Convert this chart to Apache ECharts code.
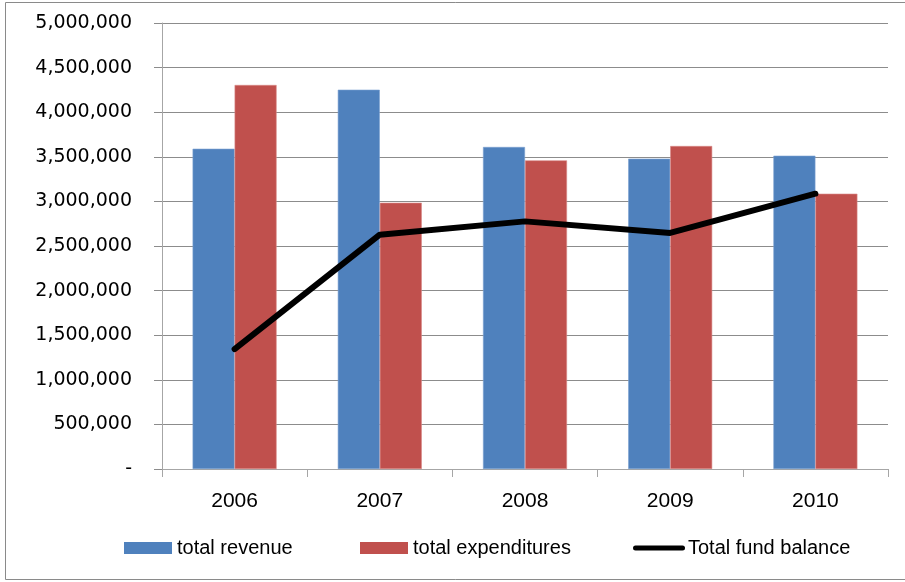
<!DOCTYPE html>
<html>
<head>
<meta charset="utf-8">
<script src="https://cdn.jsdelivr.net/npm/echarts@6/dist/echarts.min.js"></script>
<style>
html,body{margin:0;padding:0;background:#fff;}
#c{width:905px;height:582px;}
</style>
</head>
<body>
<div id="c"></div>
<script>
var categories = ['2006', '2007', '2008', '2009', '2010'];
var totalRevenue = [3590000, 4252000, 3610000, 3479000, 3512000];
var totalExpenditures = [4305000, 2985000, 3460000, 3621000, 3086000];
var totalFundBalance = [1345000, 2627000, 2776000, 2646000, 3086000];
var yTicks = { min: 0, max: 5000000, interval: 500000 };

function fmt(v) {
  if (v === 0) return '-';
  return String(v).replace(/\B(?=(\d{3})+(?!\d))/g, ',');
}

var chart = echarts.init(document.getElementById('c'), null, { renderer: 'canvas' });
var legendText = { fontFamily: 'Liberation Sans', fontSize: 20, color: '#000', lineHeight: 22 };
var legendBase = { itemGap: 0, padding: 0, top: 537, textStyle: legendText, itemStyle: { borderWidth: 0 } };
chart.setOption({
  animation: false,
  backgroundColor: '#fff',
  graphic: [{
    type: 'rect',
    shape: { x: 5.5, y: 2.5, width: 910, height: 577 },
    style: { fill: 'none', stroke: '#8a8a8a', lineWidth: 1 },
    silent: true
  }],
  grid: { left: 162, right: 17, top: 23, bottom: 113, containLabel: false },
  legend: [
    Object.assign({}, legendBase, { data: [{ name: 'total revenue', icon: 'rect' }], left: 124, itemWidth: 48, itemHeight: 12 }),
    Object.assign({}, legendBase, { data: [{ name: 'total expenditures', icon: 'rect' }], left: 360, itemWidth: 48, itemHeight: 12 }),
    Object.assign({}, legendBase, { data: [{ name: 'Total fund balance', icon: 'path://M2.5,0 H49.5 A2.5,2.5 0 0 1 49.5,5 H2.5 A2.5,2.5 0 0 1 2.5,0 Z' }], left: 633, itemWidth: 52, itemHeight: 5, textStyle: Object.assign({}, legendText, { padding: [0, 0, 0, -2] }) })
  ],
  xAxis: {
    type: 'category',
    data: categories,
    boundaryGap: true,
    axisLine: { lineStyle: { color: '#a6a6a6', width: 1 } },
    axisTick: { show: true, length: 8, lineStyle: { color: '#a6a6a6' }, alignWithLabel: false },
    axisLabel: { fontFamily: 'Liberation Sans', fontSize: 21, color: '#000', margin: 20, lineHeight: 24 },
    splitLine: { show: false }
  },
  yAxis: {
    type: 'value',
    min: yTicks.min,
    max: yTicks.max,
    interval: yTicks.interval,
    axisLine: { show: true, lineStyle: { color: '#a6a6a6', width: 1 } },
    axisTick: { show: true, length: 8, lineStyle: { color: '#8c8c8c' } },
    axisLabel: { fontFamily: 'DejaVu Sans', fontSize: 19, color: '#000', margin: 30, formatter: fmt },
    splitLine: { show: true, lineStyle: { color: '#8c8c8c', width: 1 } }
  },
  series: [
    {
      name: 'total revenue', type: 'bar', data: totalRevenue,
      barWidth: 42, barGap: '0%',
      itemStyle: { color: '#4F81BD', borderColor: '#7a9fd0', borderWidth: 0.6 }
    },
    {
      name: 'total expenditures', type: 'bar', data: totalExpenditures,
      barWidth: 42, barGap: '0%',
      itemStyle: { color: '#C0504D', borderColor: '#d98a88', borderWidth: 0.6 }
    },
    {
      name: 'Total fund balance', type: 'line', data: totalFundBalance,
      symbol: 'none', color: '#000',
      lineStyle: { color: '#000', width: 6, cap: 'round', join: 'round' },
      itemStyle: { color: '#000' },
      z: 5
    }
  ]
});
</script>
</body>
</html>
